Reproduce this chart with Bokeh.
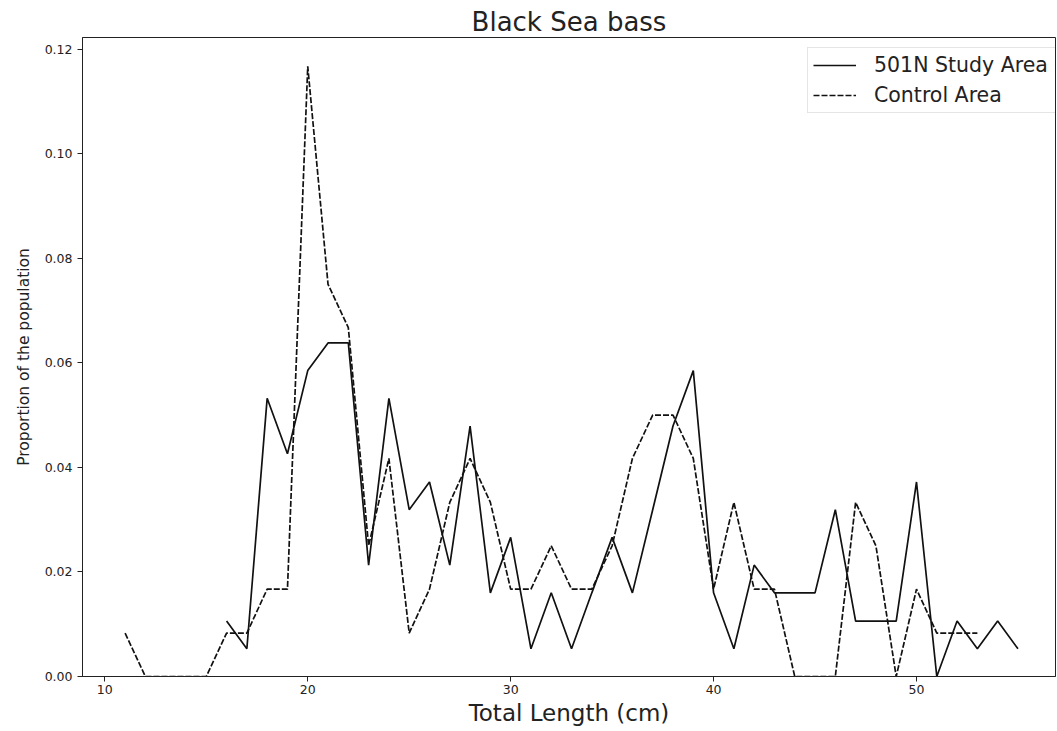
from bokeh.plotting import figure
from bokeh.models import FixedTicker, NumeralTickFormatter, Range1d, Legend, LegendItem
from bokeh.embed import file_html
from bokeh.resources import INLINE

# Study area (solid)
study_len = list(range(16, 56))
study_prop = [0.0106, 0.0053, 0.0532, 0.0426, 0.0585, 0.0638, 0.0638, 0.0213, 0.0532, 0.0319,
              0.0372, 0.0213, 0.0479, 0.0160, 0.0266, 0.0053, 0.0160, 0.0053, 0.0160, 0.0266,
              0.0160, 0.0319, 0.0479, 0.0585, 0.0160, 0.0053, 0.0213, 0.0160, 0.0160, 0.0160,
              0.0319, 0.0106, 0.0106, 0.0106, 0.0372, 0.0000, 0.0106, 0.0053, 0.0106, 0.0053]

# Control area (dashed)
control_len = list(range(11, 54))
control_prop = [0.0083, 0.0, 0.0, 0.0, 0.0, 0.0083, 0.0083, 0.0167, 0.0167, 0.1167,
                0.0750, 0.0667, 0.0250, 0.0417, 0.0083, 0.0167, 0.0333, 0.0417, 0.0333, 0.0167,
                0.0167, 0.0250, 0.0167, 0.0167, 0.0250, 0.0417, 0.0500, 0.0500, 0.0417, 0.0167,
                0.0333, 0.0167, 0.0167, 0.0, 0.0, 0.0, 0.0333, 0.0250, 0.0, 0.0167,
                0.0083, 0.0083, 0.0083]

x_ticks = [10, 20, 30, 40, 50]
y_ticks = [0.0, 0.02, 0.04, 0.06, 0.08, 0.10, 0.12]

FONT = "DejaVu Sans"
TXT = "#222222"

p = figure(width=1057, height=731, output_backend="svg", toolbar_location=None,
           x_range=Range1d(8.9, 56.85), y_range=Range1d(0, 0.1222),
           min_border_left=82, min_border_right=2, min_border_top=37, min_border_bottom=55,
           title="Black Sea bass")

p.title.text_font = FONT
p.title.text_font_size = "26px"
p.title.text_font_style = "normal"
p.title.align = "center"
p.title.text_color = TXT
p.title.offset = 0
p.title.standoff = 2

r1 = p.line(study_len, study_prop, line_color="#111111", line_width=1.7)
r2 = p.line(control_len, control_prop, line_color="#111111", line_width=1.7, line_dash="6 2")

p.xgrid.visible = False
p.ygrid.visible = False
p.outline_line_color = "#222222"
p.outline_line_width = 1

p.xaxis.ticker = FixedTicker(ticks=x_ticks)
p.yaxis.ticker = FixedTicker(ticks=y_ticks)
p.yaxis.formatter = NumeralTickFormatter(format="0.00")
for ax in (p.xaxis[0], p.yaxis[0]):
    ax.major_label_text_font = FONT
    ax.major_label_text_font_size = "12.5px"
    ax.major_label_text_color = TXT
    ax.minor_tick_line_color = None
    ax.major_tick_in = 0
    ax.major_tick_out = 5
    ax.axis_line_color = "#222222"
    ax.major_tick_line_color = "#222222"
    ax.axis_label_text_font = FONT
    ax.axis_label_text_font_style = "normal"
    ax.axis_label_text_color = TXT

p.xaxis.major_label_standoff = 3
p.xaxis.axis_label = "Total Length (cm)"
p.xaxis.axis_label_text_font_size = "23px"
p.xaxis.axis_label_standoff = 3
p.yaxis.axis_label = "Proportion of the population"
p.yaxis.axis_label_text_font_size = "15.5px"
p.yaxis.axis_label_standoff = 9

legend = Legend(items=[LegendItem(label="501N Study Area", renderers=[r1]),
                       LegendItem(label="Control Area", renderers=[r2])],
                location=(725, 563))
legend.label_text_font = FONT
legend.label_text_font_size = "20.5px"
legend.label_text_color = TXT
legend.glyph_width = 43
legend.glyph_height = 24
legend.label_height = 24
legend.label_width = 178
legend.label_standoff = 18
legend.spacing = 6
legend.padding = 5
legend.margin = 0
legend.border_line_color = "#cccccc"
legend.border_line_width = 1
legend.background_fill_alpha = 0.8
p.add_layout(legend)

open("out.html", "w").write(file_html(p, INLINE))
